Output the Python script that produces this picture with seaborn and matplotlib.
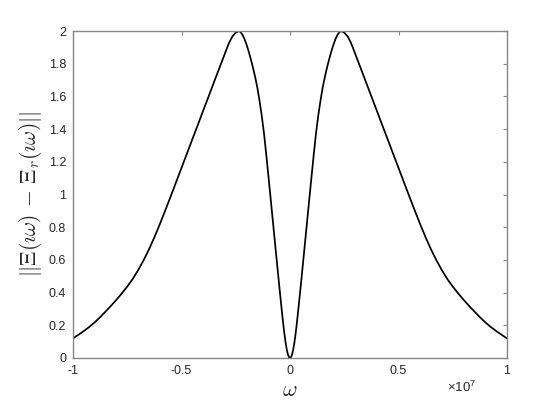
import matplotlib
matplotlib.use("Agg")
import matplotlib.pyplot as plt
from matplotlib.ticker import FuncFormatter
import seaborn as sns
import pandas as pd

# frequency samples (units of 1e6 rad/s)
omega_M = [-10.0, -9.75, -9.5, -9.25, -9.0, -8.75, -8.5, -8.25, -8.0, -7.75,
           -7.5, -7.25, -7.0, -6.75, -6.5, -6.25, -6.0, -5.75, -5.5, -5.25,
           -5.0, -4.75, -4.5, -4.25, -4.0, -3.75, -3.5, -3.25, -3.0, -2.9,
           -2.8, -2.65, -2.5, -2.35, -2.3, -2.2, -2.1, -2.0, -1.9, -1.8, -1.7,
           -1.6, -1.5, -1.4, -1.3, -1.2, -1.1, -1.0, -0.9, -0.8, -0.7, -0.6,
           -0.5, -0.4, -0.35, -0.3, -0.25, -0.2, -0.15, -0.1, -0.05,
           0.0,
           0.05, 0.1, 0.15, 0.2, 0.25, 0.3, 0.35, 0.4, 0.5, 0.6, 0.7, 0.8,
           0.9, 1.0, 1.1, 1.2, 1.3, 1.4, 1.5, 1.6, 1.7, 1.8, 1.9, 2.0, 2.1,
           2.2, 2.3, 2.35, 2.5, 2.65, 2.8, 2.9, 3.0, 3.25, 3.5, 3.75, 4.0,
           4.25, 4.5, 4.75, 5.0, 5.25, 5.5, 5.75, 6.0, 6.25, 6.5, 6.75, 7.0,
           7.25, 7.5, 7.75, 8.0, 8.25, 8.5, 8.75, 9.0, 9.25, 9.5, 9.75, 10.0]
# error norm ||Xi(iw) - Xi_r(iw)||
err_norm = [0.120, 0.142, 0.165, 0.190, 0.218, 0.250, 0.284, 0.319, 0.356,
            0.395, 0.437, 0.483, 0.537, 0.597, 0.664, 0.738, 0.818, 0.902,
            0.988, 1.075, 1.163, 1.250, 1.338, 1.425, 1.513, 1.600, 1.688,
            1.775, 1.862, 1.897, 1.930, 1.968, 1.990, 2.000, 1.996, 1.979,
            1.952, 1.916, 1.873, 1.825, 1.773, 1.715, 1.650, 1.570, 1.480,
            1.376, 1.252, 1.120, 0.986, 0.851, 0.716, 0.581, 0.448, 0.318,
            0.255, 0.195, 0.140, 0.092, 0.053, 0.024, 0.006,
            0.000,
            0.006, 0.024, 0.053, 0.092, 0.140, 0.195, 0.255, 0.318, 0.448,
            0.581, 0.716, 0.851, 0.986, 1.120, 1.252, 1.376, 1.480, 1.570,
            1.650, 1.715, 1.773, 1.825, 1.873, 1.916, 1.952, 1.979, 1.996,
            2.000, 1.990, 1.968, 1.930, 1.897, 1.862, 1.775, 1.688, 1.600,
            1.513, 1.425, 1.338, 1.250, 1.163, 1.075, 0.988, 0.902, 0.818,
            0.738, 0.664, 0.597, 0.537, 0.483, 0.437, 0.395, 0.356, 0.319,
            0.284, 0.250, 0.218, 0.190, 0.165, 0.142, 0.120]

x_ticks = [-1e7, -0.5e7, 0, 0.5e7, 1e7]
y_ticks = [0, 0.2, 0.4, 0.6, 0.8, 1.0, 1.2, 1.4, 1.6, 1.8, 2.0]

df = pd.DataFrame({"omega": [w * 1e6 for w in omega_M], "err": err_norm})

sns.set_style("white")
plt.rcParams["font.family"] = ["Liberation Sans", "DejaVu Sans"]
plt.rcParams["mathtext.fontset"] = "cm"
plt.rcParams["axes.unicode_minus"] = False

fig = plt.figure(figsize=(5.6, 4.2), dpi=100)
ax = fig.add_axes([73 / 560, 62 / 420, 434 / 560, 327 / 420])

sns.lineplot(data=df, x="omega", y="err", color="black", linewidth=1.25,
             sort=False, ax=ax)

ax.set_xlim(-1e7, 1e7)
ax.set_ylim(0, 2)
ax.set_xticks(x_ticks)
ax.set_yticks(y_ticks)
ax.xaxis.set_major_formatter(FuncFormatter(lambda v, p: "%g" % (v / 1e7)))
ax.yaxis.set_major_formatter(FuncFormatter(lambda v, p: "%g" % v))

spine_col = "#858585"
for s in ax.spines.values():
    s.set_visible(True)
    s.set_color(spine_col)
    s.set_linewidth(1.0)
ax.tick_params(axis="both", which="major", direction="in", length=3.0,
               width=0.8, color=spine_col, labelsize=9,
               labelcolor="#262626", top=True, right=True, pad=5)

ax.set_xlabel(r"$\omega$", fontsize=16, color="#262626")
ax.xaxis.set_label_coords(0.5, -0.098)
ax.xaxis.label.set_va("center")
ax.set_ylabel(r"$||\Xi(\imath\omega)\,-\,\Xi_r(\imath\omega)||$",
              fontsize=15.5, color="#262626")
ax.yaxis.set_label_coords(-0.099, 0.5)
ax.yaxis.label.set_va("center")

ax.text(0.93, -0.09, r"$\mathregular{×10^{7}}$", transform=ax.transAxes,
        ha="right", va="center", fontsize=9.5, color="#262626")

fig.savefig("out.png", dpi=100, facecolor="white")
